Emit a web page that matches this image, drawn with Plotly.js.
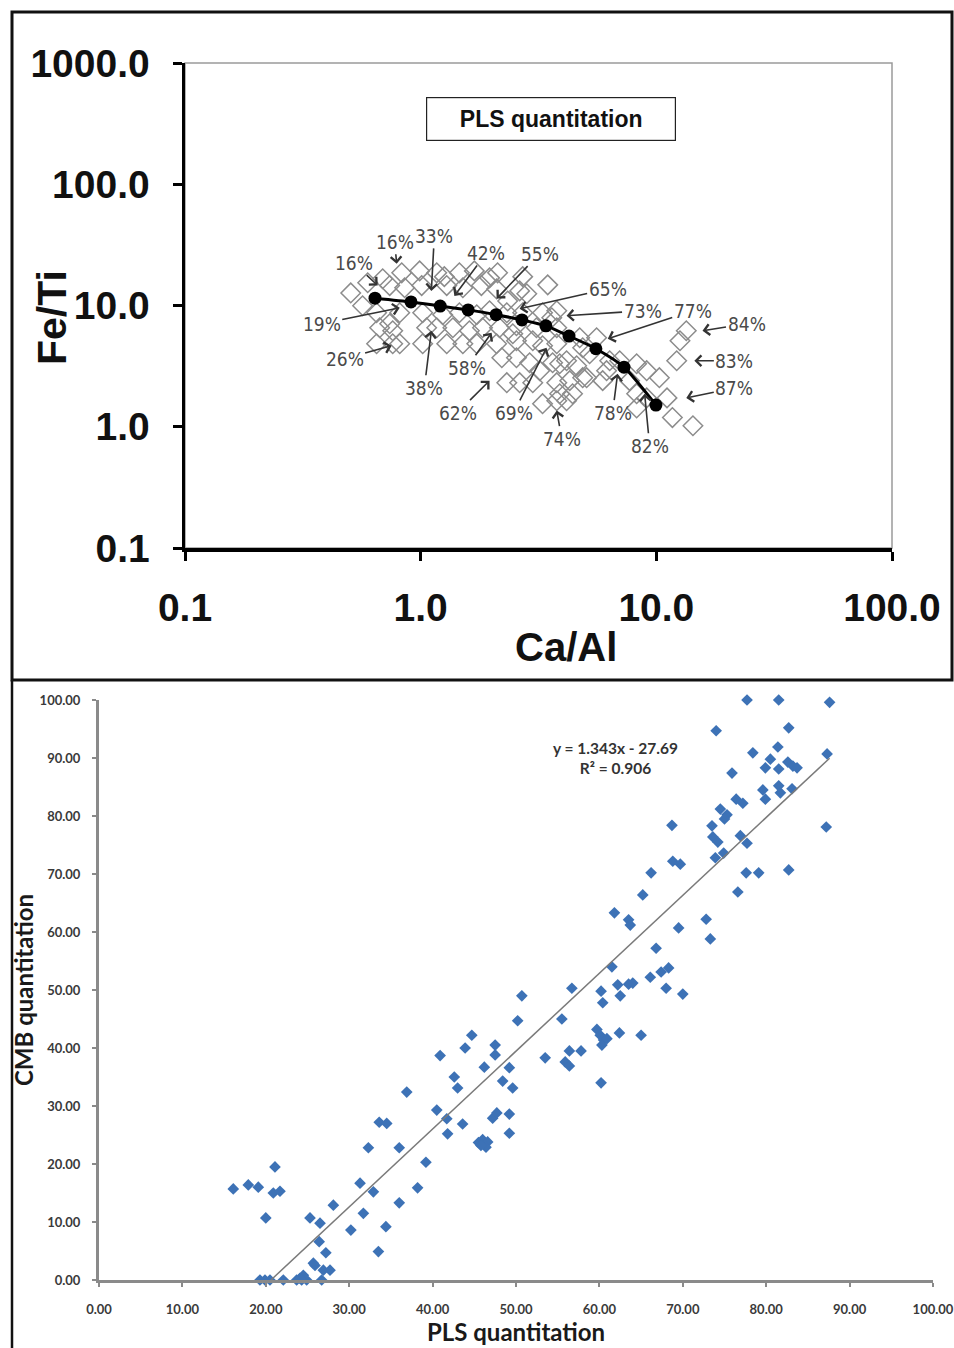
<!DOCTYPE html>
<html><head><meta charset="utf-8">
<script src="https://cdn.plot.ly/plotly-3.0.1.min.js"></script>
<style>html,body{margin:0;padding:0;background:#fff}#chart{width:954px;height:1348px}</style>
</head><body><div id="chart"></div>
<script>
// ---------- Top panel: Ca/Al vs Fe/Ti (log-log) ----------
const sampleCaAl = [0.690,0.831,0.99,1.17,1.26,1.46,1.69,1.96,2.12,2.71,3.46,0.596,0.505,
  0.739,0.855,1.01,1.29,1.51,1.81,2.10,2.63,2.82,
  0.567,0.650,0.815,1.02,1.24,1.46,1.73,1.96,2.34,2.32,2.71,3.29,3.60,3.78,
  0.670,0.739,0.761,1.06,1.17,1.37,1.61,1.83,2.16,2.46,2.55,3.10,3.78,
  0.650,0.761,0.815,1.02,1.29,1.51,1.73,2.10,2.55,2.99,3.29,3.78,4.73,5.21,5.58,4.87,
  2.21,2.55,2.90,3.63,4.16,4.59,3.89,6.15,6.99,8.25,6.34,
  2.32,2.63,2.99,3.20,3.78,4.29,4.87,9.10,10.3,7.70,5.06,5.92,
  3.29,3.78,3.89,4.16,4.41,8.25,9.10,11.1,8.25,
  11.7,14.3,13.4,12.6,12.2];
const sampleFeTi = [16.6,18.6,19.3,18.6,17.3,18.6,19.3,16.9,18.6,17.3,14.8,15.4,12.7,
  14.6,14.0,14.6,14.6,14.0,14.6,13.7,13.2,12.5,
  9.95,8.71,8.71,8.71,8.39,8.71,8.39,9.05,10.9,8.71,8.71,8.71,7.92,9.05,
  6.55,7.07,6.19,6.55,6.55,6.55,6.19,6.55,6.55,5.85,6.81,6.55,6.55,
  4.84,4.84,4.84,4.84,4.84,4.84,4.84,4.84,5.12,5.12,4.66,4.84,5.42,4.00,5.42,4.48,
  3.71,3.71,3.37,3.37,3.50,3.18,3.31,2.90,3.50,3.31,3.50,
  2.31,2.31,2.31,2.90,2.31,2.40,2.54,2.90,2.54,2.40,2.54,2.40,
  1.55,1.64,1.87,1.64,1.87,1.87,1.73,1.73,1.43,
  1.19,1.02,6.19,5.12,3.50];

const mixCaAl = [0.64,0.91,1.21,1.59,2.09,2.69,3.40,4.26,5.54,7.29,9.96];
const mixFeTi = [11.5,10.7,9.9,9.2,8.4,7.6,6.8,5.6,4.4,3.1,1.51];

const labelText  = ["16%","16%","33%","42%","55%","65%","73%","77%","84%","83%","87%","82%","78%","74%","69%","62%","58%","38%","26%","19%"];
const labelCaAl  = [0.657,0.791,1.11,1.39,2.10,2.63,4.16,6.22,15.7,14.5,13.4,8.92,6.85,3.78,3.42,1.96,2.00,1.11,0.753,0.815];
const labelFeTi  = [14.6,22.1,13.2,12.0,11.4,9.40,8.23,5.32,6.19,3.50,1.73,1.87,2.74,1.36,4.48,2.40,5.96,6.19,4.66,9.58];
// label text offsets from arrow tip (pixels)
const labelDx = [-24,-2,3,32,43,88,76,85,44,40,48,5,-5,5,-33,-32,-25,-7,-47,-78];
const labelDy = [-23,-22,-55,-43,-45,-20,-5,-28,-7,0,-10,52,39,28,65,32,35,57,13,16];

const topTickVals = [0.1,1,10,100];
const topXTickText = ["0.1","1.0","10.0","100.0"];
const topYTickVals = [0.1,1,10,100,1000];
const topYTickText = ["0.1","1.0","10.0","100.0","1000.0"];

// ---------- Bottom panel: PLS vs CMB quantitation ----------
const plsQuant = [16.1,17.9,19.1,21.1,20.9,21.7,20.0,
  19.3,19.9,20.5,22.1,23.7,24.1,24.5,24.9,26.7,24.3,
  25.3,26.5,28.1,26.4,27.2,25.7,26.9,27.7,25.9,
  30.2,31.3,31.7,32.3,32.9,33.5,33.6,34.5,34.4,36.0,36.0,36.9,38.2,39.2,
  40.5,40.9,41.7,41.8,42.6,43.0,43.6,43.9,44.7,46.2,
  45.5,46.0,46.6,46.4,45.8,
  47.5,47.5,47.2,47.7,48.4,49.2,49.2,49.2,49.6,50.2,50.7,
  53.5,55.5,55.9,56.4,56.4,56.7,57.8,
  59.7,60.1,60.5,60.3,60.9,60.2,60.4,60.2,
  61.5,61.8,62.2,62.4,62.5,63.5,64.0,63.5,63.7,65.0,65.2,
  66.1,66.2,66.8,67.4,68.3,68.0,68.7,68.8,69.7,69.5,70.0,
  72.8,73.3,73.5,73.6,74.2,73.9,74.0,74.5,74.9,75.3,75.0,75.9,
  76.4,77.2,76.9,77.7,76.6,77.6,77.7,78.4,79.1,79.6,79.9,79.9,80.5,
  81.4,81.5,81.5,81.5,81.7,82.6,83.2,83.7,82.7,83.1,82.7,87.6,87.3,87.2];
const cmbQuant = [15.7,16.4,16.0,19.5,15.0,15.3,10.7,
  0,0,0,0,0,0.3,0.8,0,0,0,
  10.7,9.8,12.9,6.6,4.7,2.9,1.7,1.7,2.5,
  8.6,16.7,11.5,22.8,15.2,4.9,27.2,27.0,9.2,22.8,13.3,32.4,15.9,20.3,
  29.3,38.7,27.8,25.2,35.0,33.1,26.9,40.0,42.2,36.7,
  23.7,24.2,23.8,22.9,23.2,
  40.5,38.8,27.9,28.8,34.3,36.6,28.6,25.3,33.1,44.7,49.0,
  38.3,45.0,37.6,36.9,39.5,50.3,39.5,
  43.2,42.2,41.4,40.5,41.6,49.8,47.8,34.0,
  54.0,63.3,50.9,42.6,49.0,51.0,51.2,62.1,61.2,42.2,66.4,
  52.2,70.2,57.2,53.1,53.8,50.3,78.4,72.2,71.7,60.7,49.3,
  62.2,58.8,78.3,76.4,75.5,72.8,94.7,81.2,73.6,80.2,79.5,87.4,
  82.9,82.2,76.6,75.3,66.9,70.2,100,90.9,70.2,84.5,82.9,88.3,89.8,
  91.9,88.1,100,85.2,84.0,89.3,88.6,88.3,95.2,84.7,70.7,99.6,90.7,78.1];
const trendSlope = 1.343;
const trendIntercept = -27.69;
const trendR2 = 0.906;

// ---------- build ----------
const W = 954, H = 1348;
const px = v => v / W;
const py = v => 1 - v / H;

const trendX0 = -trendIntercept / trendSlope;
const trendX1 = Math.max(...plsQuant);

const traces = [
  {x: sampleCaAl, y: sampleFeTi, xaxis:'x', yaxis:'y', type:'scatter', mode:'markers',
   marker:{symbol:'diamond-open', size:15, color:'#8c8c8c', line:{width:1.5, color:'#8c8c8c'}}},
  {x: mixCaAl, y: mixFeTi, xaxis:'x', yaxis:'y', type:'scatter', mode:'lines+markers',
   line:{color:'#000', width:3, shape:'spline', smoothing:0.6}, marker:{symbol:'circle', size:13, color:'#000'}},
  {x: plsQuant, y: cmbQuant, xaxis:'x2', yaxis:'y2', type:'scatter', mode:'markers', cliponaxis:false,
   marker:{symbol:'diamond', size:9, color:'#3d72b6'}},
  {x: [trendX0, trendX1], y: [trendSlope*trendX0+trendIntercept, trendSlope*trendX1+trendIntercept],
   xaxis:'x2', yaxis:'y2', type:'scatter', mode:'lines', line:{color:'#7a7a7a', width:1.5}, cliponaxis:false}
];

const labelFont = {family:'"Liberation Sans Narrow","Arial Narrow","DejaVu Sans Condensed",sans-serif', size:19, color:'#4a4a4a'};
const annotations = labelText.map((t,i)=>({
  text:t, xref:'x', yref:'y', x:Math.log10(labelCaAl[i]), y:Math.log10(labelFeTi[i]),
  ax:labelDx[i], ay:labelDy[i], axref:'pixel', ayref:'pixel',
  showarrow:true, arrowhead:4, arrowsize:1.3, arrowwidth:1.6, arrowcolor:'#333',
  standoff:0, startstandoff:0, font:labelFont
}));

annotations.push(
  {text:'PLS quantitation', xref:'paper', yref:'paper', x:px(550.5), y:py(118.5), xanchor:'center', yanchor:'middle', showarrow:false,
   font:{family:'Liberation Sans, Arial, sans-serif', size:23, color:'#111', weight:'bold'},
   bordercolor:'#222', borderwidth:1.2, borderpad:3, bgcolor:'#fff', width:242, height:36},
  {text:'Fe/Ti', xref:'paper', yref:'paper', x:px(52), y:py(318), xanchor:'center', yanchor:'middle', textangle:-90, showarrow:false,
   font:{family:'Liberation Sans, Arial, sans-serif', size:41, color:'#111', weight:'bold'}},
  {text:'Ca/Al', xref:'paper', yref:'paper', x:px(566), y:py(647), xanchor:'center', yanchor:'middle', showarrow:false,
   font:{family:'Liberation Sans, Arial, sans-serif', size:40, color:'#111', weight:'bold'}},
  {text:'y = ' + trendSlope.toFixed(3) + 'x - ' + Math.abs(trendIntercept).toFixed(2) + '<br>R² = ' + trendR2.toFixed(3),
   xref:'paper', yref:'paper', x:px(615), y:py(758), xanchor:'center', yanchor:'middle', showarrow:false,
   font:{family:'Lato, "Open Sans", sans-serif', size:15.5, color:'#333', weight:'bold'}, align:'center'}
);

const bigTick = {family:'Liberation Sans, Arial, sans-serif', size:39, color:'#111', weight:'bold'};
const smallTick = {family:'Lato, "Open Sans", sans-serif', size:13, color:'#3a3a3a', weight:'bold'};
const bottomTitle = {family:'Lato, "Open Sans", sans-serif', size:24, color:'#1a1a1a', weight:'bold'};

const layout = {
  width:W, height:H, margin:{l:0,r:0,t:0,b:0}, paper_bgcolor:'#fff', plot_bgcolor:'#fff', showlegend:false,
  xaxis:{domain:[px(185),px(892)], anchor:'y', type:'log', range:[-1,2], tickvals:topTickVals, ticktext:topXTickText,
    showline:true, linecolor:'#000', linewidth:3.5, ticks:'outside', ticklen:9, tickwidth:3, tickcolor:'#000',
    showgrid:false, zeroline:false, tickfont:bigTick, ticklabelstandoff:14},
  yaxis:{domain:[py(548),py(63)], anchor:'x', type:'log', range:[-1,3], tickvals:topYTickVals, ticktext:topYTickText,
    showline:true, linecolor:'#000', linewidth:3.5, ticks:'outside', ticklen:9, tickwidth:3, tickcolor:'#000',
    showgrid:false, zeroline:false, tickfont:bigTick, ticklabelstandoff:15},
  xaxis2:{domain:[px(99),px(933)], anchor:'y2', range:[0,100], dtick:10, tick0:0, tickformat:'.2f',
    showline:true, linecolor:'#8a8a8a', linewidth:3, ticks:'outside', ticklen:4, tickwidth:2, tickcolor:'#8a8a8a',
    showgrid:false, zeroline:false, tickfont:smallTick, ticklabelstandoff:11,
    title:{text:'PLS quantitation', font:bottomTitle, standoff:6}},
  yaxis2:{domain:[py(1280),py(700)], anchor:'x2', range:[0,100], dtick:10, tick0:0, tickformat:'.2f',
    showline:true, linecolor:'#8a8a8a', linewidth:3, ticks:'outside', ticklen:4, tickwidth:2, tickcolor:'#8a8a8a',
    showgrid:false, zeroline:false, tickfont:smallTick, ticklabelstandoff:9,
    title:{text:'CMB quantitation', font:bottomTitle, standoff:0}},
  annotations: annotations,
  shapes:[
    {type:'rect', xref:'x domain', yref:'y domain', x0:0, x1:1, y0:0, y1:1, line:{color:'#9a9a9a', width:1.5}, layer:'below'},
    {type:'rect', xref:'paper', yref:'paper', x0:px(12), x1:px(952), y0:py(680), y1:py(12), line:{color:'#111', width:3}},
    {type:'line', xref:'paper', yref:'paper', x0:px(12), x1:px(12), y0:0, y1:py(680), line:{color:'#111', width:2.5}}
  ]
};

Plotly.newPlot('chart', traces, layout, {displayModeBar:false, staticPlot:true});
</script>
</body></html>
